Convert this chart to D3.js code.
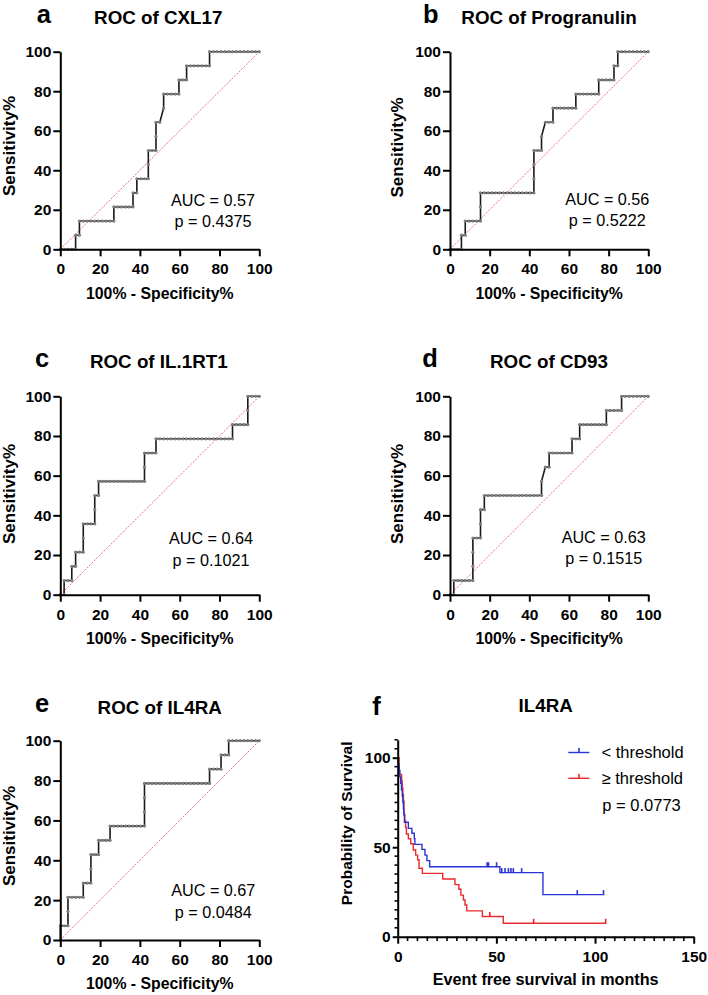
<!DOCTYPE html>
<html><head><meta charset="utf-8">
<script src="https://cdn.jsdelivr.net/npm/d3@7"></script>
<style>
body{margin:0;background:#fff}
svg{display:block}
text{font-family:"Liberation Sans",Arial,Helvetica,sans-serif;fill:#000}
</style>
</head><body>
<svg id="chart" width="708" height="995"></svg>
<script>
// ---------------- DATA ----------------
const rocTicks = [0, 20, 40, 60, 80, 100];
const nNeg = 52, nPos = 14;
const rocNames = ["ROC of CXL17", "ROC of Progranulin", "ROC of IL.1RT1", "ROC of CD93", "ROC of IL4RA"];
const rocLetters = ["a", "b", "c", "d", "e"];
const rocAUC = ["0.57", "0.56", "0.64", "0.63", "0.67"];
const rocP = ["0.4375", "0.5222", "0.1021", "0.1515", "0.0484"];
// ordered outcomes (run-length): N = negative case passed, P = positive case passed, T = tie of one of each
const rocSeqA = "4N 1P 1N 1P 9N 1P 5N 1P 1N 1P 3N 2P 2N 2P 1N 1T 1P 4N 1P 2N 1P 6N 1P 13N";
const rocSeqB = "3N 1P 1N 1P 4N 2P 14N 3P 2N 1P 1T 2N 1P 6N 1P 6N 1P 4N 1P 1N 1P 8N";
const rocSeqC = "1N 1P 2N 1P 1N 1P 2N 2P 3N 2P 1N 1P 12N 2P 3N 1P 20N 1P 4N 2P 3N";
const rocSeqD = "1N 1P 5N 3P 2N 2P 1N 1P 15N 1P 1T 1N 1P 6N 1P 2N 1P 7N 1P 4N 1P 7N";
const rocSeqE = "1P 2N 2P 4N 1P 2N 2P 2N 1P 3N 1P 9N 3P 17N 1P 3N 1P 2N 1P 8N";
const rocSeqs = [rocSeqA, rocSeqB, rocSeqC, rocSeqD, rocSeqE];

// Kaplan-Meier (panel f)
const kmTicksX = [0, 50, 100, 150];
const kmTicksY = [0, 50, 100];
const lowTimes = [0, 0.3, 0.7, 1.1, 1.5, 1.9, 2.3, 2.6, 2.9, 3.1, 3.4, 5.4, 7.2, 8.4, 8.7, 12.3, 13.8, 14.8, 16.2, 51.8, 73.6];
const lowSurv  = [100, 96.4, 92.9, 89.3, 85.7, 82.1, 78.6, 75.0, 71.4, 67.9, 63.9, 60.5, 57.8, 54.7, 51.6, 48.8, 45.6, 42.5, 39.1, 35.8, 23.5];
const lowEnd = 104.3;
const lowCensor = [45.3, 46.0, 50.1, 52.7, 54.4, 56.1, 57.4, 58.6, 62.8, 91.0, 104.3];
const highTimes = [0, 0.7, 2.0, 2.3, 2.6, 2.9, 3.2, 3.6, 4.0, 4.4, 5.4, 6.6, 7.9, 9.1, 10.1, 10.8, 12.5, 22.8, 29.0, 31.0, 32.0, 33.3, 34.1, 35.0, 42.9, 53.5];
const highSurv  = [100, 90.7, 87.0, 83.3, 79.6, 75.9, 68.5, 64.8, 61.1, 57.4, 54.7, 51.9, 48.4, 45.6, 43.0, 38.2, 35.4, 32.2, 29.1, 26.5, 23.2, 20.5, 17.7, 14.4, 11.3, 7.5];
const highEnd = 105.4;
const highCensor = [46.7, 68.9, 105.4];
const kmLegend = ["< threshold", "\u2265 threshold"];
const kmP = "p = 0.0773";

// ---------------- LAYOUT ----------------
const FONT = '"Liberation Sans",Arial,Helvetica,sans-serif';
const rocLayout = [
  {x0: 60.3, x1: 259.3, y0: 249.3, y1: 51.7, title: [158.3, 24], letter: [36.7, 22.5], auc: [213, 205.7], yt: [15, 146]},
  {x0: 450, x1: 648.3, y0: 249.3, y1: 51.7, title: [549, 24], letter: [423, 22.5], auc: [607.3, 204.5], yt: [403, 147.5]},
  {x0: 60.3, x1: 259.3, y0: 594.7, y1: 396.3, title: [158.8, 368.3], letter: [35, 366.7], auc: [211, 544], yt: [15, 494]},
  {x0: 450, x1: 648.3, y0: 594.7, y1: 396.3, title: [549, 368.3], letter: [422.3, 366.7], auc: [603.7, 542.7], yt: [403, 494]},
  {x0: 60.3, x1: 259.3, y0: 940, y1: 740.7, title: [159.7, 714], letter: [35, 711.7], auc: [213.3, 896], yt: [15, 836]}
];

const svg = d3.select("#chart");

function parseSeq(seq) {
  let n = 0, p = 0;
  const pts = [[0, 0]];
  seq.trim().split(/\s+/).forEach(tok => {
    const k = parseInt(tok, 10), t = tok.slice(-1);
    for (let i = 0; i < k; i++) {
      if (t === "N") n++;
      else if (t === "P") p++;
      else { n++; p++; }
      pts.push([n / nNeg * 100, p / nPos * 100]);
    }
  });
  return pts;
}

function styleAxis(g, size) {
  g.select(".domain").attr("stroke", "#000").attr("stroke-width", 2);
  g.selectAll(".tick line").attr("stroke", "#000").attr("stroke-width", 2);
  g.selectAll(".tick text").attr("font-family", FONT).attr("font-size", size)
    .attr("font-weight", "bold").attr("fill", "#000");
}

rocLayout.forEach((L, i) => {
  const x = d3.scaleLinear().domain([0, 100]).range([L.x0, L.x1]);
  const y = d3.scaleLinear().domain([0, 100]).range([L.y0, L.y1]);
  const g = svg.append("g");

  // chance line
  g.append("line")
    .attr("x1", x(0)).attr("y1", y(0)).attr("x2", x(100)).attr("y2", y(100))
    .attr("stroke", "#e8707a").attr("stroke-width", 1).attr("stroke-dasharray", "2,1.4");

  const pts = parseSeq(rocSeqs[i]);
  g.append("path").datum(pts)
    .attr("d", d3.line().x(d => x(d[0])).y(d => y(d[1])))
    .attr("fill", "none").attr("stroke", "#1a1a1a").attr("stroke-width", 1.6);
  g.selectAll("circle.pt").data(pts).join("circle").attr("class", "pt")
    .attr("cx", d => x(d[0])).attr("cy", d => y(d[1])).attr("r", 1.6)
    .attr("fill", "#7d7d7d");

  const ax = g.append("g").attr("transform", `translate(0,${L.y0})`)
    .call(d3.axisBottom(x).tickValues(rocTicks).tickSize(7).tickPadding(7).tickSizeOuter(0));
  styleAxis(ax, 15.5);
  const ay = g.append("g").attr("transform", `translate(${L.x0},0)`)
    .call(d3.axisLeft(y).tickValues(rocTicks).tickSize(7).tickPadding(2).tickSizeOuter(0));
  styleAxis(ay, 15.5);

  g.append("text").attr("x", L.letter[0]).attr("y", L.letter[1])
    .attr("font-size", 25.5).attr("font-weight", "bold").text(rocLetters[i]);
  g.append("text").attr("x", L.title[0]).attr("y", L.title[1]).attr("text-anchor", "middle")
    .attr("font-size", 18.8).attr("font-weight", "bold").text(rocNames[i]);
  g.append("text").attr("transform", `translate(${L.yt[0]},${L.yt[1]}) rotate(-90)`)
    .attr("text-anchor", "middle").attr("font-size", 17).attr("font-weight", "bold").text("Sensitivity%");
  g.append("text").attr("x", (L.x0 + L.x1) / 2).attr("y", L.y0 + 49.4).attr("text-anchor", "middle")
    .attr("font-size", 15.8).attr("font-weight", "bold").text("100% - Specificity%");
  g.append("text").attr("x", L.auc[0]).attr("y", L.auc[1]).attr("text-anchor", "middle")
    .attr("font-size", 16.2).text("AUC = " + rocAUC[i]);
  g.append("text").attr("x", L.auc[0]).attr("y", L.auc[1] + 21.5).attr("text-anchor", "middle")
    .attr("font-size", 16.2).text("p = " + rocP[i]);
});

// ---------------- PANEL f ----------------
(function () {
  const x = d3.scaleLinear().domain([0, 150]).range([397.7, 693.7]);
  const y = d3.scaleLinear().domain([0, 100]).range([936.7, 757.7]);
  const g = svg.append("g");
  const blue = "#2a34d6", red = "#ea2a2a";

  function survAt(times, surv, t) {
    let s = surv[0];
    for (let k = 0; k < times.length; k++) if (times[k] <= t) s = surv[k];
    return s;
  }
  function drawKM(times, surv, end, cens, color) {
    const pts = times.map((t, k) => [t, surv[k]]);
    pts.push([end, surv[surv.length - 1]]);
    g.append("path").datum(pts)
      .attr("d", d3.line().curve(d3.curveStepAfter).x(d => x(d[0])).y(d => y(d[1])))
      .attr("fill", "none").attr("stroke", color).attr("stroke-width", 1.4);
    g.selectAll(null).data(cens).join("line")
      .attr("x1", d => x(d)).attr("x2", d => x(d))
      .attr("y1", d => y(survAt(times, surv, d)) - 4.5).attr("y2", d => y(survAt(times, surv, d)) + 0.5)
      .attr("stroke", color).attr("stroke-width", 1.6);
  }
  drawKM(highTimes, highSurv, highEnd, highCensor, red);
  drawKM(lowTimes, lowSurv, lowEnd, lowCensor, blue);

  // axes
  const ax = g.append("g").attr("transform", "translate(0,936.7)")
    .call(d3.axisBottom(x).tickValues(kmTicksX).tickSize(7).tickPadding(7).tickSizeOuter(0));
  styleAxis(ax, 15.5);
  g.append("g").selectAll("line").data(d3.range(5, 150, 5).filter(v => v % 50 !== 0)).join("line")
    .attr("x1", d => x(d)).attr("x2", d => x(d)).attr("y1", 936.7).attr("y2", 941)
    .attr("stroke", "#000").attr("stroke-width", 1.6);

  const yAx = d3.scaleLinear().domain([0, 110]).range([y(0), y(110)]);
  const ay = g.append("g").attr("transform", "translate(397.7,0)")
    .call(d3.axisLeft(yAx).tickValues(kmTicksY).tickSize(5).tickPadding(2).tickSizeOuter(0));
  styleAxis(ay, 15.5);
  g.append("g").selectAll("line").data(d3.range(5, 111, 5).filter(v => v % 50 !== 0)).join("line")
    .attr("x1", 397.7).attr("x2", 394.5).attr("y1", d => yAx(d)).attr("y2", d => yAx(d))
    .attr("stroke", "#000").attr("stroke-width", 1.6);

  g.append("text").attr("x", 372.3).attr("y", 715).attr("font-size", 25.5).attr("font-weight", "bold").text("f");
  g.append("text").attr("x", 545.7).attr("y", 712.3).attr("text-anchor", "middle")
    .attr("font-size", 18.8).attr("font-weight", "bold").text("IL4RA");
  g.append("text").attr("transform", "translate(352,823.3) rotate(-90)").attr("text-anchor", "middle")
    .attr("font-size", 15.5).attr("font-weight", "bold").text("Probability of Survival");
  g.append("text").attr("x", 545.7).attr("y", 985).attr("text-anchor", "middle")
    .attr("font-size", 16.2).attr("font-weight", "bold").text("Event free survival in months");

  // legend
  const lg = [[752.5, blue, 757.7], [778.3, red, 783.8]];
  lg.forEach((r, k) => {
    g.append("line").attr("x1", 568.3).attr("x2", 589.3).attr("y1", r[0]).attr("y2", r[0])
      .attr("stroke", r[1]).attr("stroke-width", 1.4);
    g.append("line").attr("x1", 579).attr("x2", 579).attr("y1", r[0] - 4.5).attr("y2", r[0] + 0.5)
      .attr("stroke", r[1]).attr("stroke-width", 1.6);
    g.append("text").attr("x", 601.5).attr("y", r[2]).attr("font-size", 16.5).text(kmLegend[k]);
  });
  g.append("text").attr("x", 602.3).attr("y", 811).attr("font-size", 16.5).text(kmP);
})();
</script>
</body></html>
